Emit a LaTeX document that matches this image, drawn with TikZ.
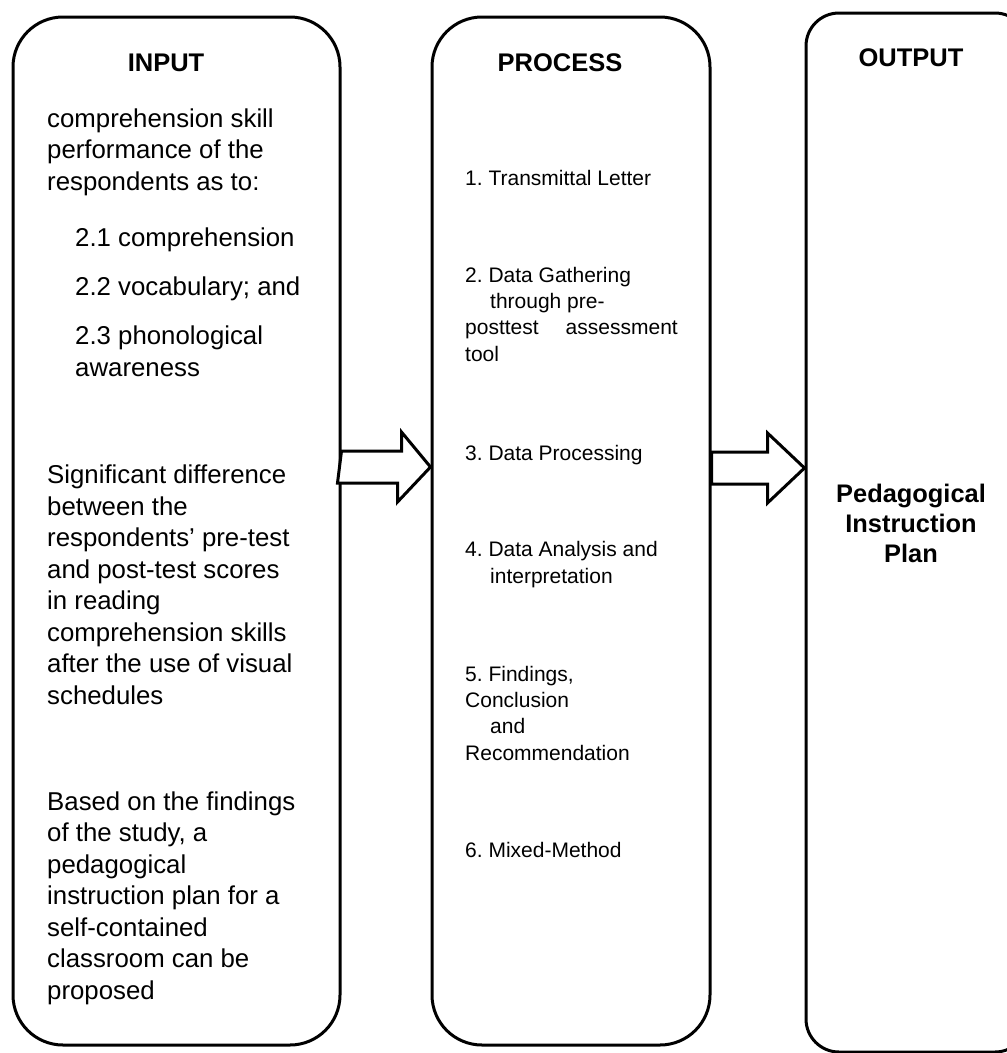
\documentclass[tikz,border=0pt]{standalone}
\usepackage{fontspec}
\setmainfont{Liberation Sans}
\frenchspacing
\usetikzlibrary{calc}

\begin{document}
\begin{tikzpicture}[x=1pt,y=-1pt,
  box/.style={draw,line width=3pt,rounded corners=#1,inner sep=0pt},
  head/.style={font=\fontsize{25.5pt}{30pt}\selectfont\bfseries,anchor=base,inner sep=0pt},
  intext/.style={font=\fontsize{25.8pt}{31.5pt}\selectfont,align=left,anchor=base west,inner sep=0pt},
  proctext/.style={font=\fontsize{21pt}{26.3pt}\selectfont,align=left,anchor=base west,inner sep=0pt},
  fatarrow/.style={draw,line width=3pt,fill=white}]
\clip (0,0) rectangle (1007,1053);
\fill[white] (0,0) rectangle (1007,1053);

\node[box=50pt,minimum width=327pt,minimum height=1028pt] (inbox) at (176.5,531) {};
\node[box=50pt,minimum width=278pt,minimum height=1028pt] (procbox) at (571,531) {};
\node[box=33pt,minimum width=222pt,minimum height=1039pt] (outbox) at (917,532.5) {};

\node[head] (intitle) at (166,71) {INPUT};
\node[head] (proctitle) at (560,71) {PROCESS};
\node[head] (outtitle) at (911,66) {OUTPUT};

% multi-line nodes sit on the baseline of their last line
\node[intext] (in1) at (47,190) {comprehension skill\\performance of the\\respondents as to:};
\node[intext] (in2) at (75,246) {2.1 comprehension};
\node[intext] (in3) at (75,295) {2.2 vocabulary; and};
\node[intext] (in4) at (75,376) {2.3 phonological\\awareness};
\node[intext] (in5) at (47,704) {Significant difference\\between the\\respondents' pre-test\\and post-test scores\\in reading\\comprehension skills\\after the use of visual\\schedules};
\node[intext] (in6) at (47,999) {Based on the findings\\of the study, a\\pedagogical\\instruction plan for a\\self-contained\\classroom can be\\proposed};

\node[proctext] (p1) at (465,185) {1. Transmittal Letter};
\node[proctext] (p2) at (465,361) {2. Data Gathering\\\hspace*{25pt}through pre-\\posttest\hspace{27pt}assessment\\tool};
\node[proctext] (p3) at (465,460) {3. Data Processing};
\node[proctext] (p4) at (465,583) {4. Data Analysis and\\\hspace*{25pt}interpretation};
\node[proctext] (p5) at (465,760) {5. Findings,\\Conclusion\\\hspace*{25pt}and\\Recommendation};
\node[proctext] (p6) at (465,857) {6. Mixed-Method};

\node[font=\fontsize{25.4pt}{30pt}\selectfont\bfseries,align=center,anchor=base,inner sep=0pt] (plan) at (911,562) {Pedagogical\\Instruction\\Plan};

\coordinate (a1) at (inbox.east |- 0,467);
\coordinate (a2) at (procbox.east |- 0,468);
\draw[fatarrow] (a1) ++(0,-16) -- ++(60,0) -- ++(0,-19) -- (procbox.west |- a1) -- ++(-33,35) -- ++(0,-19) -- ++(-60,0) -- cycle;
\draw[fatarrow] (a2) ++(0,-16) -- ++(56,0) -- ++(0,-19) -- (outbox.west |- a2) -- ++(-37,35) -- ++(0,-19) -- ++(-56,0) -- cycle;
\end{tikzpicture}
\end{document}
